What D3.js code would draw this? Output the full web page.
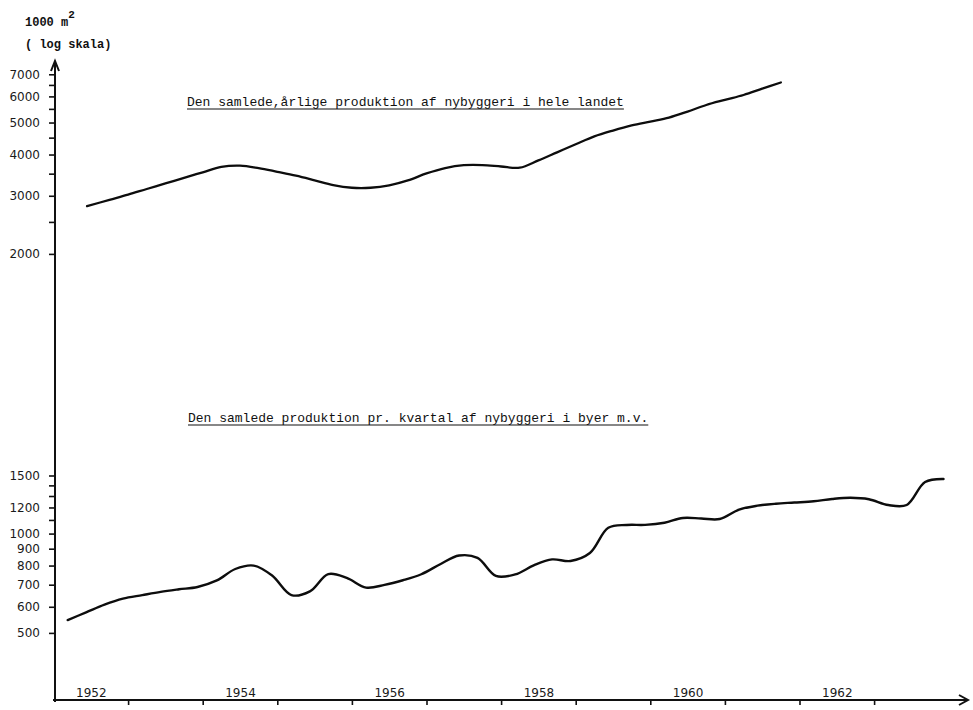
<!DOCTYPE html>
<html>
<head>
<meta charset="utf-8">
<script src="https://cdn.jsdelivr.net/npm/d3@7"></script>
<style>
  body { margin: 0; background: #fff; }
  svg { display: block; background: #fff; }
  .num { font-family: "DejaVu Sans", sans-serif; font-size: 12px; fill: #1a1a1a; }
  .mono { font-family: "Liberation Mono", "DejaVu Sans Mono", monospace; fill: #111; }
</style>
</head>
<body>
<svg id="chart" width="973" height="710"></svg>
<script>
// Annual production, whole country (1000 m², log scale), read at quarter-year steps
const annualTimes = [
  1952.45, 1952.75, 1953.0, 1953.25, 1953.5, 1953.75, 1954.0, 1954.25, 1954.5, 1954.75,
  1955.0, 1955.25, 1955.5, 1955.75, 1956.0, 1956.25, 1956.5, 1956.75, 1957.0, 1957.25,
  1957.5, 1957.75, 1958.0, 1958.25, 1958.5, 1958.75, 1959.0, 1959.25, 1959.5, 1959.75,
  1960.0, 1960.25, 1960.5, 1960.75, 1961.0, 1961.25, 1961.5, 1961.75
];
const annualValues = [
  2790, 2916, 3024, 3145, 3269, 3400, 3533, 3671, 3703, 3639,
  3546, 3451, 3341, 3231, 3173, 3173, 3226, 3339, 3506, 3639,
  3713, 3716, 3679, 3648, 3841, 4062, 4296, 4539, 4729, 4901,
  5036, 5175, 5397, 5651, 5856, 6059, 6331, 6612
];

// Quarterly production in towns, 1952 Q1 – 1963 Q4
const quarterYears = d3.range(1952, 1964);
const quarters = [1, 2, 3, 4];
const quarterValues = [
  547, 577, 609, 635, 651, 666, 678, 689, 721, 781,
  800, 746, 651, 668, 754, 734, 686, 699, 722, 753,
  809, 858, 844, 744, 752, 801, 835, 826, 873, 1041,
  1062, 1063, 1079, 1115, 1111, 1107, 1182, 1215, 1232, 1242,
  1253, 1273, 1284, 1271, 1221, 1221, 1433, 1464
];

// Axis ticks and labels
const upperTicks = [2000, 2500, 3000, 3500, 4000, 4500, 5000, 5500, 6000, 6500, 7000];
const upperLabels = [2000, 3000, 4000, 5000, 6000, 7000];
const lowerTicks = [500, 600, 700, 800, 900, 1000, 1100, 1200, 1300, 1400, 1500];
const lowerLabels = [500, 600, 700, 800, 900, 1000, 1200, 1500];
const yearTicks = [1953, 1954, 1955, 1956, 1957, 1958, 1959, 1960, 1961, 1962, 1963];
const yearLabels = [1952, 1954, 1956, 1958, 1960, 1962];

const titleAnnual = "Den samlede,årlige produktion af nybyggeri i hele landet";
const titleQuarter = "Den samlede produktion pr. kvartal af nybyggeri i byer m.v.";

const svg = d3.select("#chart");
const axisX = 55, axisY = 700;

const x = d3.scaleLinear().domain([1952, 1964]).range([53.5, 948.7]);
const yUpper = d3.scaleLog().domain([2000, 7000]).range([253.9, 74.3]);
const yLower = d3.scaleLog().domain([500, 1500]).range([632.9, 475.5]);

// Quarter positions, slightly inset within each year
const quarterTimes = [];
quarterYears.forEach(yr => quarters.forEach(q => quarterTimes.push(yr + 0.19 + (q - 1) * 0.2468)));

// Unit label
const unit = svg.append("text").attr("class", "mono")
  .attr("x", 25).attr("y", 26)
  .style("font-size", "12px").style("font-weight", "bold");
unit.append("tspan").text("1000 m");
unit.append("tspan").attr("dy", -8).style("font-size", "11px").text("2");
svg.append("text").attr("class", "mono")
  .attr("x", 25).attr("y", 48)
  .style("font-size", "12px").style("font-weight", "bold")
  .text("( log skala)");

// Left tick sets
function leftAxis(scale, ticks, labels) {
  const g = svg.append("g")
    .attr("transform", `translate(${axisX},0)`)
    .call(d3.axisLeft(scale).tickValues(ticks).tickSize(6).tickPadding(9)
      .tickFormat(d => labels.includes(d) ? String(d) : ""));
  g.select(".domain").remove();
  g.selectAll(".tick line").attr("stroke", "#111").attr("stroke-width", 1.6);
  g.selectAll(".tick text").attr("class", "num").attr("fill", null).style("font-size", "12px");
  g.attr("font-family", null).attr("font-size", null);
}
leftAxis(yUpper, upperTicks, upperLabels);
leftAxis(yLower, lowerTicks, lowerLabels);

// Vertical axis with arrow
svg.append("line")
  .attr("x1", axisX).attr("x2", axisX).attr("y1", axisY + 2).attr("y2", 62)
  .attr("stroke", "#111").attr("stroke-width", 2);
svg.append("path")
  .attr("d", `M${axisX - 4},71 L${axisX},61 L${axisX + 4},71`)
  .attr("fill", "none").attr("stroke", "#111").attr("stroke-width", 2);

// Horizontal time axis
const gx = svg.append("g")
  .attr("transform", `translate(0,${axisY})`)
  .call(d3.axisBottom(x).tickValues(yearTicks).tickSize(5).tickFormat(""));
gx.select(".domain").remove();
gx.selectAll(".tick line").attr("stroke", "#111").attr("stroke-width", 1.6);

const gxl = svg.append("g")
  .attr("transform", `translate(0,${axisY})`)
  .call(d3.axisTop(x)
    .tickValues(yearLabels.map(yr => yr + 0.5)).tickSize(0).tickPadding(3)
    .tickFormat(d => String(Math.floor(d))));
gxl.select(".domain").remove();
gxl.selectAll(".tick text").attr("class", "num").attr("fill", null).style("font-size", "12px");
gxl.attr("font-family", null).attr("font-size", null);

svg.append("line")
  .attr("x1", 53).attr("x2", 967).attr("y1", axisY).attr("y2", axisY)
  .attr("stroke", "#111").attr("stroke-width", 2);
svg.append("path")
  .attr("d", `M959,${axisY - 5} L968,${axisY} L959,${axisY + 5}`)
  .attr("fill", "none").attr("stroke", "#111").attr("stroke-width", 2);

// Underlined series titles
function title(text, tx, ty) {
  const t = svg.append("text").attr("class", "mono")
    .attr("x", tx).attr("y", ty).style("font-size", "13px").text(text);
  const w = t.node().getComputedTextLength();
  svg.append("line")
    .attr("x1", tx).attr("x2", tx + w).attr("y1", ty + 3).attr("y2", ty + 3)
    .attr("stroke", "#111").attr("stroke-width", 1.2);
}
title(titleAnnual, 187, 106);
title(titleQuarter, 188, 422);

// Series lines
const annualLine = d3.line()
  .x((d, i) => x(annualTimes[i]))
  .y(d => yUpper(d))
  .curve(d3.curveCatmullRom.alpha(0.5));
svg.append("path")
  .datum(annualValues)
  .attr("d", annualLine)
  .attr("fill", "none").attr("stroke", "#0d0d0d")
  .attr("stroke-width", 2.3).attr("stroke-linecap", "round").attr("stroke-linejoin", "round");

const quarterLine = d3.line()
  .x((d, i) => x(quarterTimes[i]))
  .y(d => yLower(d))
  .curve(d3.curveCatmullRom.alpha(0.5));
svg.append("path")
  .datum(quarterValues)
  .attr("d", quarterLine)
  .attr("fill", "none").attr("stroke", "#0d0d0d")
  .attr("stroke-width", 2.4).attr("stroke-linecap", "round").attr("stroke-linejoin", "round");
</script>
</body>
</html>
